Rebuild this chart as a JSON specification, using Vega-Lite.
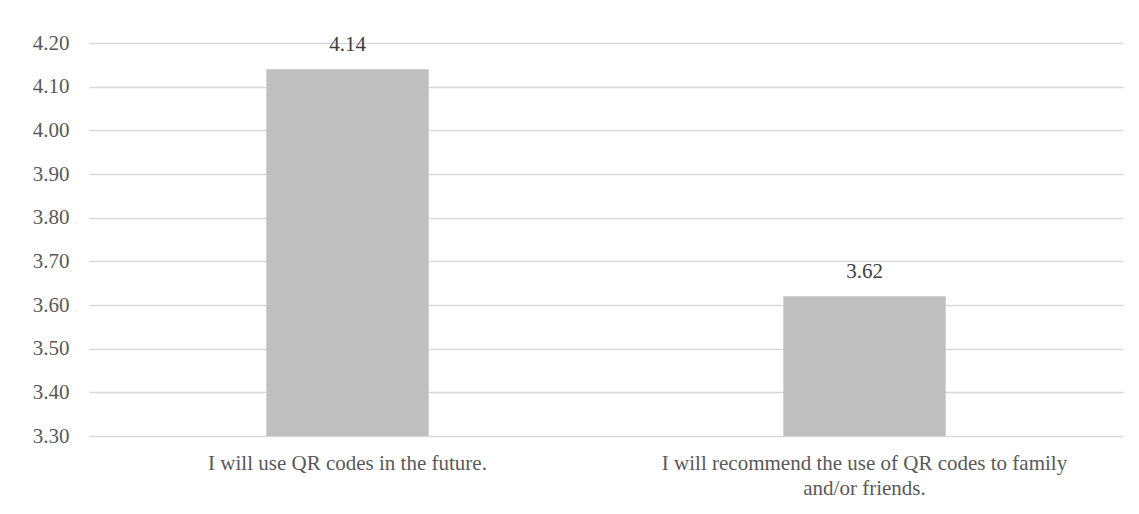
{
  "$schema": "https://vega.github.io/schema/vega-lite/v6.json",
  "width": 1034,
  "height": 393,
  "autosize": {"type": "none"},
  "padding": {"left": 89, "top": 43, "right": 16, "bottom": 78},
  "background": "#ffffff",
  "config": {
    "view": {"stroke": null},
    "font": "Liberation Serif",
    "axis": {
      "labelFont": "Liberation Serif",
      "labelColor": "#595959",
      "labelFontSize": 21,
      "labelLimit": 0,
      "domain": false,
      "ticks": false
    }
  },
  "data": {
    "values": [
      {"statement": "I will use QR codes in the future.", "mean": 4.14},
      {"statement": "I will recommend the use of QR codes to family|and/or friends.", "mean": 3.62}
    ]
  },
  "encoding": {
    "x": {
      "field": "statement",
      "type": "nominal",
      "sort": null,
      "title": null,
      "scale": {"paddingInner": 0.686, "paddingOuter": 0.343},
      "axis": {
        "labelAngle": 0,
        "labelPadding": 16,
        "labelLineHeight": 25,
        "labelBaseline": "top",
        "labelExpr": "split(datum.label, '|')",
        "grid": false
      }
    },
    "y": {
      "field": "mean",
      "type": "quantitative",
      "title": null,
      "scale": {"domain": [3.3, 4.2], "zero": false, "nice": false},
      "axis": {
        "values": [3.3, 3.4, 3.5, 3.6, 3.7, 3.8, 3.9, 4.0, 4.1, 4.2],
        "format": ".2f",
        "labelPadding": 20,
        "grid": true,
        "gridColor": "#d9d9d9",
        "gridWidth": 1.5
      }
    }
  },
  "layer": [
    {
      "mark": {"type": "bar", "color": "#bfbfbf"},
      "encoding": {"y2": {"datum": 3.3}}
    },
    {
      "mark": {"type": "text", "baseline": "middle", "dy": -24, "fontSize": 21, "color": "#404040", "font": "Liberation Serif"},
      "encoding": {"text": {"field": "mean", "type": "quantitative", "format": ".2f"}}
    }
  ]
}
